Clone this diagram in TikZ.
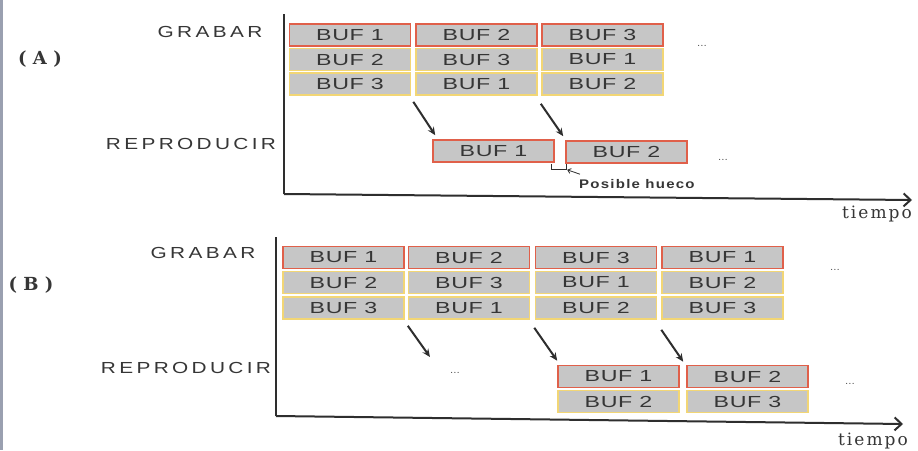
\documentclass[tikz,border=0pt]{standalone}
\usepackage{fontspec}
\usetikzlibrary{arrows.meta,calc}
\newfontfamily\buffont[FakeStretch=1.45,LetterSpace=4]{Liberation Sans}
\newfontfamily\lblfont[FakeStretch=1.3,LetterSpace=21]{Liberation Sans}
\newfontfamily\huecofont[FakeStretch=1.2,LetterSpace=10]{Liberation Sans}
\newfontfamily\tiempofont[LetterSpace=12]{DejaVu Serif}
\newfontfamily\panelfont[LetterSpace=35]{DejaVu Serif}
\definecolor{boxgray}{HTML}{C6C6C6}
\definecolor{bufink}{HTML}{363636}
\definecolor{redb}{HTML}{E0604A}
\definecolor{yelb}{HTML}{F2D675}
\definecolor{axisc}{HTML}{2E2E2E}
\definecolor{stripc}{HTML}{9AA0B0}
\tikzset{
  bufbox/.style={draw=#1, fill=boxgray, line width=1.6pt, minimum width=121pt,
    minimum height=22pt, inner sep=0pt, text=bufink,
    font=\buffont\fontsize{16}{16}\selectfont},
  redbox/.style={bufbox=redb},
  yelbox/.style={bufbox=yelb},
  rowlabel/.style={text=bufink, inner sep=0pt, font=\lblfont\fontsize{16}{16}\selectfont},
  dotsnode/.style={text=bufink, inner sep=0pt, anchor=base, font=\fontsize{12}{12}\selectfont},
  flowarrow/.style={draw=axisc, line width=2pt, -{Stealth[length=8pt,width=7pt]}},
  axisline/.style={draw=axisc, line width=2pt},
  tiempolbl/.style={text=bufink, inner sep=0pt, font=\tiempofont\fontsize{17}{17}\selectfont},
  panellbl/.style={text=bufink, inner sep=0pt, font=\panelfont\bfseries\fontsize{18}{18}\selectfont}
}
\begin{document}
\begin{tikzpicture}[x=1pt,y=-1pt]
\useasboundingbox (0,0) rectangle (918,450);
\fill[white] (0,0) rectangle (918,450);
\fill[stripc] (0,0) rectangle (3,450);

% ---------------- Panel A ----------------
\node[panellbl] (labA) at (40,59) {(A)};
\node[rowlabel] (grabA) at (210,32) {GRABAR};
\node[rowlabel] (repA) at (191,144) {REPRODUCIR};

\coordinate (Atop) at (284,14);
\coordinate (Aorg) at (284,194);
\coordinate (Aend) at (912,200);
\draw[axisline] (Atop) -- (Aorg);
\draw[axisline, -{Straight Barb[length=7pt,width=13pt]}] (Aorg) -- (Aend);
\node[tiempolbl] (tiempoA) at (877,214) {tiempo};

\node[yelbox] (a21) at (350,59.5) {BUF 2};
\node[yelbox] (a22) at (476.5,59.5) {BUF 3};
\node[yelbox] (a23) at (602.5,59.5) {BUF 1};
\node[yelbox] (a31) at (350,84) {BUF 3};
\node[yelbox] (a32) at (476.5,84) {BUF 1};
\node[yelbox] (a33) at (602.5,84) {BUF 2};
\node[redbox] (a11) at (350,35) {BUF 1};
\node[redbox] (a12) at (476.5,35) {BUF 2};
\node[redbox] (a13) at (602.5,35) {BUF 3};
\node[dotsnode] (dotsA1) at (702,46) {...};

\node[redbox] (ra1) at (493.5,151) {BUF 1};
\node[redbox] (ra2) at (626.5,152) {BUF 2};
\node[dotsnode] (dotsA2) at (723,160) {...};

\draw[flowarrow] ([shift={(2,6)}]a31.south east) -- ([shift={(3,-4)}]ra1.north west);
\draw[flowarrow] ([shift={(3,8)}]a32.south east) -- ([shift={(-2,-4)}]ra2.north west);

\draw[draw=axisc, line width=0.9pt] ([shift={(-3,1)}]ra1.south east) -- ++(0,6) -| ([shift={(1,0)}]ra2.south west);
\node[text=bufink, inner sep=0pt, anchor=west, font=\huecofont\bfseries\fontsize{12.5}{12.5}\selectfont] (hueco) at (579,184) {Posible hueco};
\draw[draw=axisc, line width=0.8pt, -{Straight Barb[length=3pt,width=5pt]}] ([shift={(1,-5)}]hueco.north west) -- ([shift={(2,6)}]ra2.south west);

% ---------------- Panel B ----------------
\node[panellbl] (labB) at (31,285) {(B)};
\node[rowlabel] (grabB) at (203,253) {GRABAR};
\node[rowlabel] (repB) at (186,368) {REPRODUCIR};

\coordinate (Btop) at (276,237);
\coordinate (Borg) at (276,416);
\coordinate (Bend) at (903,424);
\draw[axisline] (Btop) -- (Borg);
\draw[axisline, -{Straight Barb[length=7pt,width=13pt]}] (Borg) -- (Bend);
\node[tiempolbl] (tiempoB) at (873,441) {tiempo};

\node[yelbox] (b21) at (343.5,282.5) {BUF 2};
\node[yelbox] (b22) at (469,282.5) {BUF 3};
\node[yelbox] (b23) at (596,282.5) {BUF 1};
\node[yelbox] (b24) at (722.5,282.5) {BUF 2};
\node[yelbox] (b31) at (343.5,308) {BUF 3};
\node[yelbox] (b32) at (469,308) {BUF 1};
\node[yelbox] (b33) at (596,308) {BUF 2};
\node[yelbox] (b34) at (722.5,308) {BUF 3};
\node[redbox] (b11) at (343.5,257.5) {BUF 1};
\node[redbox] (b12) at (469,257.5) {BUF 2};
\node[redbox] (b13) at (596,257.5) {BUF 3};
\node[redbox] (b14) at (722.5,257.5) {BUF 1};
\node[dotsnode] (dotsB1) at (835,270) {...};

\node[yelbox] (rb21) at (618.5,401.5) {BUF 2};
\node[yelbox] (rb22) at (747.5,401.5) {BUF 3};
\node[redbox] (rb11) at (618.5,376.5) {BUF 1};
\node[redbox] (rb12) at (747.5,376.5) {BUF 2};
\node[dotsnode] (dotsB2) at (455,373) {...};
\node[dotsnode] (dotsB3) at (850,384) {...};

\coordinate (bfree) at (430,357);
\draw[flowarrow] ([shift={(3,6)}]b31.south east) -- (bfree);
\draw[flowarrow] ([shift={(4,8)}]b32.south east) -- ([shift={(0,-4)}]rb11.north west);
\draw[flowarrow] ([shift={(4,10)}]b33.south east) -- ([shift={(-3,-3)}]rb12.north west);
\end{tikzpicture}
\end{document}
